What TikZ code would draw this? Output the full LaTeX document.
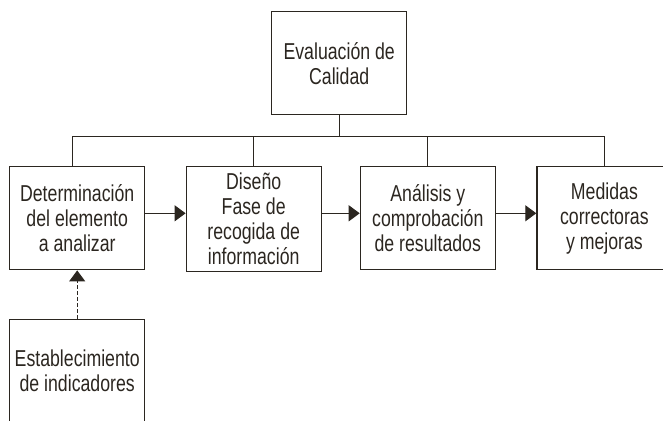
\documentclass[tikz,border=0pt]{standalone}
\usepackage{fontspec}
\setmainfont{Liberation Sans}[FakeStretch=0.77]
\usepackage{xcolor}
\usetikzlibrary{arrows.meta, positioning, calc}
\definecolor{ink}{HTML}{2B2620}

\begin{document}
\begin{tikzpicture}[x=1pt, y=1pt, color=ink, line width=1.1pt,
    box/.style={draw, line width=1.2pt, minimum width=135pt, minimum height=103pt,
        inner sep=1pt, align=center, font=\fontsize{23}{25}\selectfont},
    flow/.style={-{Triangle[length=11pt,width=16pt]}}]
\clip (0,0) rectangle (663,420);

% Top box
\node[box] (eval) at (339.2,356.7) {Evaluación de\\Calidad};

% Main row
\node[box] (det) at (77.2,201.7) {Determinación\\del elemento\\a analizar};
\node[box, minimum height=105pt] (dis) at (253.7,200.8) {Diseño\\Fase de\\recogida de\\información};
\node[box] (ana) at (427.8,201.7) {Análisis y\\comprobación\\de resultados};
\node[box] (med) at (604.4,201.7) {Medidas\\correctoras\\y mejoras};

% Indicators
\node[box] (est) at (77.2,49) {Establecimiento\\de indicadores};

% Tree lines
\coordinate (bus) at (339.2,283.5);
\draw (eval.south) -- (bus);
\draw ([xshift=-4.5pt]det.north) |- (bus) -| (med.north);
\foreach \n in {dis, ana}
    \draw (\n.north) -- (\n.north |- bus);

% Flow arrows
\foreach \a/\b in {det/dis, dis/ana, ana/med}
    \draw[flow] ([yshift=5pt]\a.east |- det.east) -- ([yshift=5pt]\b.west |- det.east);
\draw[flow, dash pattern=on 4pt off 2pt] (est.north) -- (det.south);
\end{tikzpicture}
\end{document}
